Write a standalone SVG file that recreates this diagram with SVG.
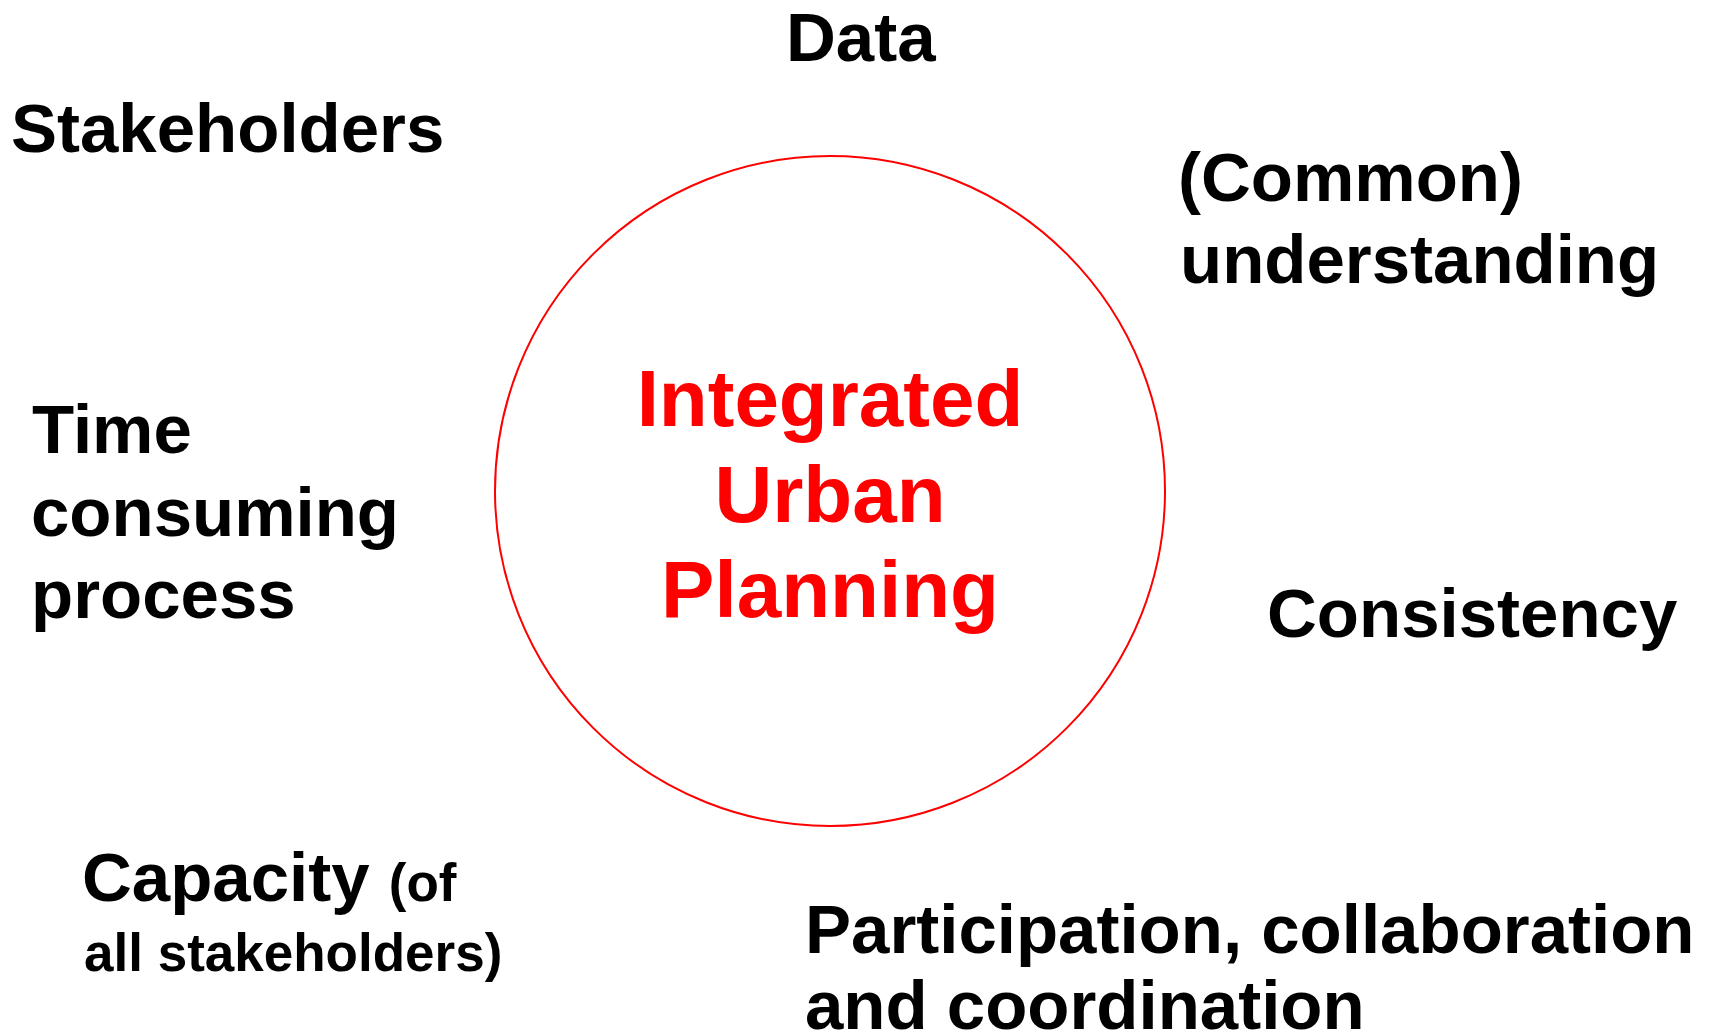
<svg xmlns="http://www.w3.org/2000/svg" width="1711" height="1033" viewBox="0 0 1711 1033">
<style>
.t{font-family:"Liberation Sans",Arial,sans-serif;font-weight:bold;font-size:69px;fill:#000}
.s{font-size:53px}
.c{font-family:"Liberation Sans",Arial,sans-serif;font-weight:bold;font-size:80px;fill:#ff0000;text-anchor:middle}
</style>
<rect width="1711" height="1033" fill="#fff"/>
<g id="center">
<circle cx="830" cy="491" r="335" fill="none" stroke="#ff0000" stroke-width="2"/>
<text class="c" x="830" y="426">Integrated</text>
<text class="c" x="830" y="522">Urban</text>
<text class="c" x="830" y="617">Planning</text>
</g>
<g id="data"><text class="t" x="786" y="61">Data</text></g>
<g id="stakeholders"><text class="t" x="11" y="152">Stakeholders</text></g>
<g id="understanding">
<text class="t" x="1178" y="201">(Common)</text>
<text class="t" x="1180" y="283">understanding</text>
</g>
<g id="time">
<text class="t" x="32" y="453">Time</text>
<text class="t" x="31" y="536">consuming</text>
<text class="t" x="31" y="618">process</text>
</g>
<g id="consistency"><text class="t" x="1267" y="637">Consistency</text></g>
<g id="capacity">
<text class="t" x="82" y="901">Capacity <tspan class="s">(of</tspan></text>
<text class="t s" x="84" y="971">all stakeholders)</text>
</g>
<g id="participation">
<text class="t" x="805" y="953">Participation, collaboration</text>
<text class="t" x="805" y="1029">and coordination</text>
</g>
<g id="connectors"></g>
</svg>
